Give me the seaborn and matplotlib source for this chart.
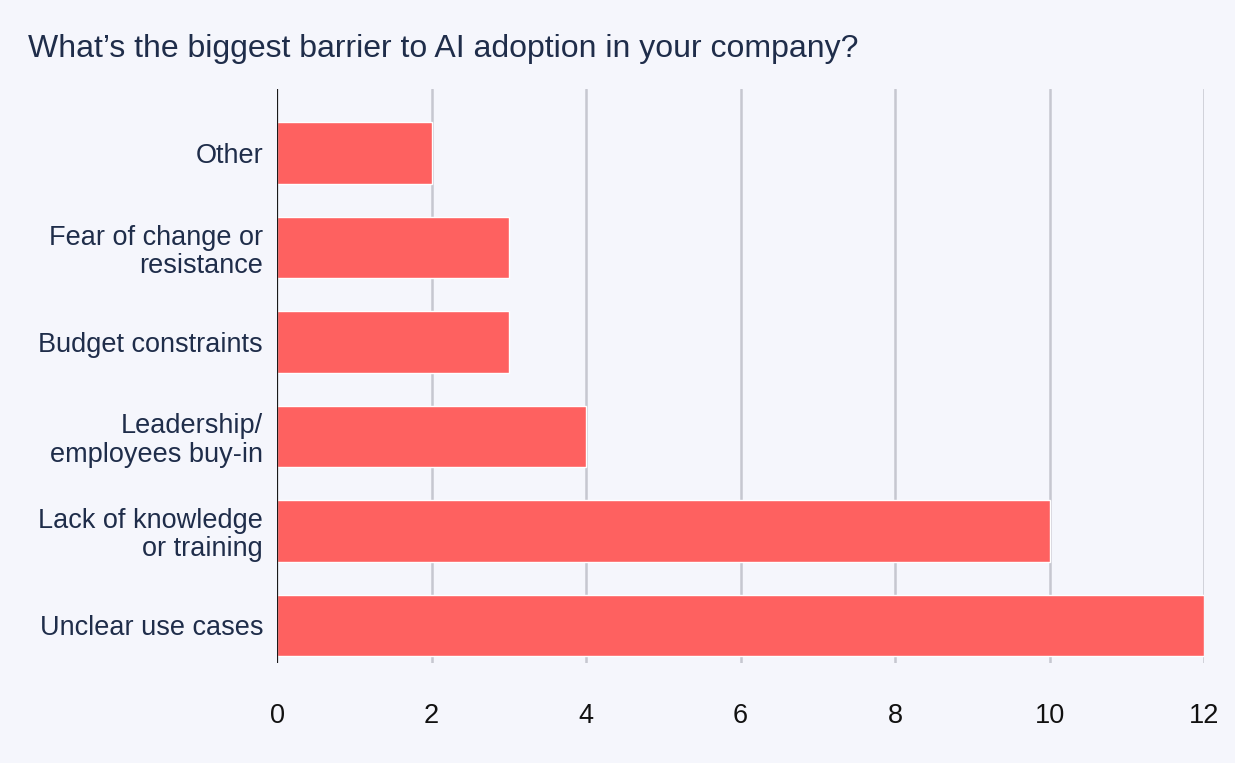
import matplotlib
matplotlib.use("Agg")
import matplotlib.pyplot as plt
import pandas as pd
import seaborn as sns

categories = ["Other", "Fear of change or\nresistance", "Budget constraints",
              "Leadership/\nemployees buy-in", "Lack of knowledge\nor training",
              "Unclear use cases"]
counts = [2, 3, 3, 4, 10, 12]
x_ticks = [0, 2, 4, 6, 8, 10, 12]

bg = "#f5f6fc"
bar_color = "#fe6160"
text_color = "#1f2d4a"

sns.set_theme(style="white")
plt.rcParams["font.family"] = ["Liberation Sans", "DejaVu Sans"]

df = pd.DataFrame({"barrier": categories, "count": counts})

fig = plt.figure(figsize=(12.35, 7.63), dpi=100, facecolor=bg)
ax = fig.add_axes([0.2243, 0.131, 0.7507, 0.7524], facecolor=bg)

sns.barplot(data=df, x="count", y="barrier", color=bar_color, width=0.65,
            saturation=1, ax=ax, zorder=3)

# grid lines
for t in x_ticks[1:]:
    ax.axvline(t, color="#c6c7d0", lw=1.8, zorder=1)
ax.axvline(0, color="#1a1a1a", lw=1.6, zorder=4)

ax.set_xlim(0, 12)
ax.set_ylim(5.4, -0.68)
ax.set_xticks(x_ticks)
ax.set_xticklabels([str(t) for t in x_ticks], fontsize=19.5, color="#111111")
ax.tick_params(axis="y", labelsize=19.5, labelcolor=text_color, length=0, pad=10)
ax.tick_params(axis="x", length=0, pad=29)
for lbl in ax.get_yticklabels():
    lbl.set_horizontalalignment("right")
    lbl.set_multialignment("right")
    lbl.set_linespacing(1.13)
ax.set_xlabel("")
ax.set_ylabel("")
for s in ax.spines.values():
    s.set_visible(False)

fig.text(0.023, 0.936, "What\u2019s the biggest barrier to AI adoption in your company?",
         fontsize=23, color=text_color, ha="left", va="center")

fig.savefig("out.png", dpi=100, facecolor=bg)
